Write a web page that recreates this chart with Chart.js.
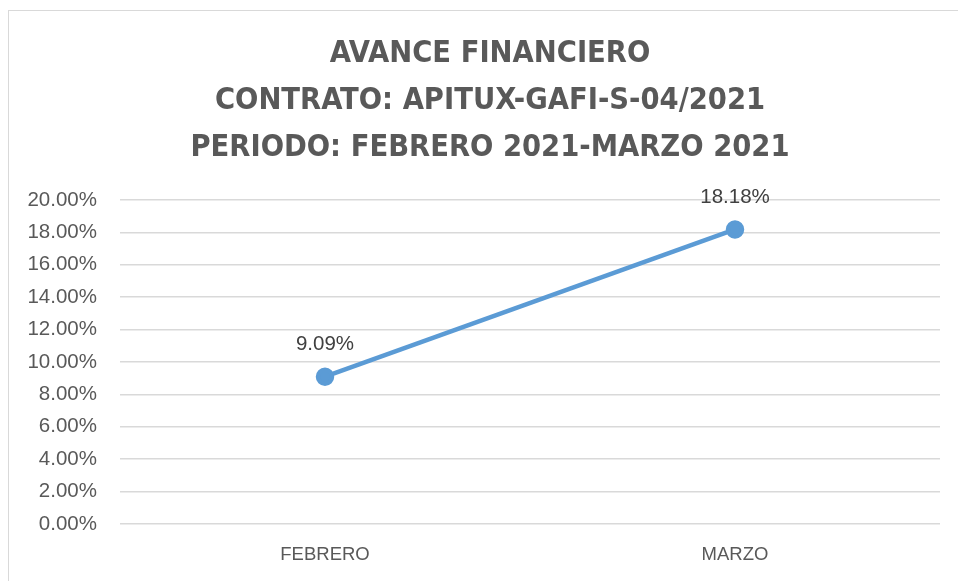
<!DOCTYPE html>
<html>
<head>
<meta charset="utf-8">
<script src="https://cdn.jsdelivr.net/npm/chart.js@4/dist/chart.umd.min.js"></script>
<style>
  html, body { margin: 0; padding: 0; background: #fff; }
  #wrap { position: relative; width: 958px; height: 581px; }
  #frame { position: absolute; left: 8px; top: 10px; width: 960px; height: 580px; border: 1px solid #d9d9d9; box-sizing: border-box; pointer-events: none; }
  canvas { position: absolute; left: 0; top: 0; }
</style>
</head>
<body>
<div id="wrap">
  <canvas id="chart" width="958" height="581"></canvas>
  <div id="frame"></div>
</div>
<script>
// datos
const categories = ['FEBRERO', 'MARZO'];
const avance = [0.0909, 0.1818];
const titleLines = ['AVANCE FINANCIERO', 'CONTRATO: APITUX-GAFI-S-04/2021', 'PERIODO: FEBRERO 2021-MARZO 2021'];

const pct = v => (v * 100).toFixed(2) + '%';

// título centrado sobre el marco (no sobre el lienzo)
const chartTitle = {
  id: 'chartTitle',
  afterDraw(chart) {
    const ctx = chart.ctx;
    ctx.save();
    ctx.font = 'bold 30.5px "Liberation Sans Narrow", "DejaVu Sans Condensed", sans-serif';
    ctx.fillStyle = '#595959';
    ctx.textAlign = 'center';
    ctx.textBaseline = 'middle';
    titleLines.forEach((t, i) => ctx.fillText(t, 490, 54 + i * 47));
    ctx.restore();
  }
};

// etiquetas de datos sobre cada punto
const pointLabels = {
  id: 'pointLabels',
  afterDatasetsDraw(chart) {
    const ctx = chart.ctx;
    const meta = chart.getDatasetMeta(0);
    ctx.save();
    ctx.font = '20.5px "Liberation Sans", Arial, sans-serif';
    ctx.fillStyle = '#404040';
    ctx.textAlign = 'center';
    ctx.textBaseline = 'middle';
    meta.data.forEach((pt, i) => {
      ctx.fillText(pct(avance[i]), pt.x, pt.y - 32);
    });
    ctx.restore();
  }
};

new Chart(document.getElementById('chart'), {
  type: 'line',
  data: {
    labels: categories,
    datasets: [{
      data: avance,
      borderColor: '#5b9bd5',
      backgroundColor: '#5b9bd5',
      borderWidth: 4.5,
      pointRadius: 7,
      pointHoverRadius: 7,
      tension: 0
    }]
  },
  options: {
    responsive: false,
    animation: false,
    layout: { padding: { top: 200, right: 18, bottom: 0, left: 0 } },
    plugins: {
      legend: { display: false },
      tooltip: { enabled: false },
      title: { display: false }
    },
    scales: {
      x: {
        offset: true,
        grid: { display: false, drawTicks: false },
        border: { display: false },
        ticks: { color: '#595959', padding: 20, font: { family: '"Liberation Sans", Arial, sans-serif', size: 18.5 } },
        afterFit: s => { s.height = 57; }
      },
      y: {
        min: 0,
        max: 0.2,
        ticks: { stepSize: 0.02, color: '#595959', padding: 23, callback: v => pct(v), font: { family: '"Liberation Sans", Arial, sans-serif', size: 20.5 } },
        grid: { color: '#d9d9d9', lineWidth: 1.5, drawTicks: false },
        border: { display: false },
        afterFit: s => { s.width = 120; }
      }
    }
  },
  plugins: [pointLabels, chartTitle]
});
</script>
</body>
</html>
